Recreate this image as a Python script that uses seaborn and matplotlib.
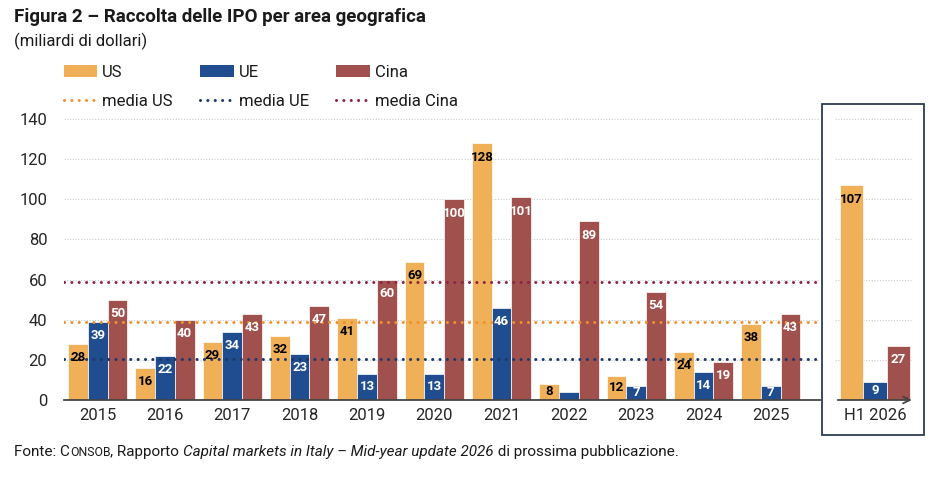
import numpy as np
import pandas as pd
import matplotlib
matplotlib.use('Agg')
import matplotlib.pyplot as plt
from matplotlib.patches import Patch, Rectangle
from matplotlib.lines import Line2D
from matplotlib import font_manager
import seaborn as sns

# data (miliardi di dollari)
anni = ['2015', '2016', '2017', '2018', '2019', '2020', '2021', '2022', '2023', '2024', '2025']
us = [28, 16, 29, 32, 41, 69, 128, 8, 12, 24, 38]
ue = [39, 22, 34, 23, 13, 13, 46, 4, 7, 14, 7]
cina = [50, 40, 43, 47, 60, 100, 101, 89, 54, 19, 43]

h1_label = 'H1 2026'
h1_us = [107]
h1_ue = [9]
h1_cina = [27]

aree = ['US', 'UE', 'Cina']
bar_colors = {'US': '#F0B057', 'UE': '#1F4D90', 'Cina': '#A0514E'}
mean_colors = {'US': '#F0922A', 'UE': '#1D3868', 'Cina': '#8E2445'}
label_colors = {'US': 'black', 'UE': 'white', 'Cina': 'white'}

sns.set_theme(style='white')
avail = {f.name for f in font_manager.fontManager.ttflist}
fam = [f for f in ['Liberation Sans Narrow', 'Roboto', 'DejaVu Sans'] if f in avail]
plt.rcParams['font.family'] = fam
plt.rcParams['text.color'] = '#1a1a1a'


def long_df(labels, a, b, c):
    rows = []
    for area, vals in zip(aree, [a, b, c]):
        for lab, v in zip(labels, vals):
            rows.append({'anno': lab, 'area': area, 'valore': v})
    return pd.DataFrame(rows)


def draw_bars(ax, df, width):
    sns.barplot(data=df, x='anno', y='valore', hue='area', hue_order=aree,
                palette=bar_colors, width=width, saturation=1, legend=False,
                edgecolor='white', linewidth=0.5, ax=ax, zorder=2)
    # value labels inside the top of each bar
    for area, cont in zip(aree, ax.containers):
        for p in cont:
            h = p.get_height()
            if h < 5:
                continue
            ax.text(p.get_x() + p.get_width() / 2, h - min(7, h / 2), f'{h:.0f}',
                    ha='center', va='center', fontsize=9.5, fontweight='bold',
                    color=label_colors[area], zorder=5)


def style_axis(ax):
    ax.set_ylim(0, 141)
    ax.set_yticks(np.arange(0, 141, 20))
    ax.yaxis.grid(True, color='#C9C9C9', linestyle=(0, (1, 1.5)), linewidth=0.8)
    ax.set_axisbelow(True)
    for s in ['top', 'right', 'left']:
        ax.spines[s].set_visible(False)
    ax.spines['bottom'].set_color('#444444')
    ax.spines['bottom'].set_linewidth(1.3)
    ax.set_xlabel('')
    ax.set_ylabel('')
    ax.tick_params(axis='x', length=0, labelsize=12, pad=6)
    ax.tick_params(axis='y', length=0, labelsize=12, pad=12)


fig = plt.figure(figsize=(9.5, 4.84), dpi=100)
W, H = 950, 484
ax = fig.add_axes([64 / W, 1 - 400 / H, (820 - 64) / W, 283 / H])
ax2 = fig.add_axes([835 / W, 1 - 400 / H, (913 - 835) / W, 283 / H])

draw_bars(ax, long_df(anni, us, ue, cina), 0.88)
style_axis(ax)
ax.set_xlim(-0.5, len(anni) - 0.27)

# averages over 2015-2025
for area, vals in zip(aree, [us, ue, cina]):
    ax.axhline(np.mean(vals), color=mean_colors[area], linestyle=(0, (0.01, 2.4)),
               linewidth=2.2, dash_capstyle='round', zorder=4)

draw_bars(ax2, long_df([h1_label], h1_us, h1_ue, h1_cina), 1.0)
style_axis(ax2)
ax2.set_xlim(-0.571, 0.543)
ax2.set_yticklabels([])
ax2.spines['bottom'].set_visible(False)
ax2.annotate('', xy=(1.02, 0), xytext=(0, 0), xycoords='axes fraction',
             arrowprops=dict(arrowstyle='->', color='#444444', lw=1.3))

# box around the half-year panel
fig.add_artist(Rectangle((822 / W, 1 - 435 / H), (924 - 822) / W, (435 - 104) / H,
                         transform=fig.transFigure, fill=False,
                         edgecolor='#2E3B56', linewidth=1.3))

# legend: bars on first row, averages on second
handles, labels = [], []
for area in aree:
    handles.append(Patch(facecolor=bar_colors[area], edgecolor='none'))
    labels.append(area)
    handles.append(Line2D([], [], color=mean_colors[area], linestyle=(0, (0.01, 2.4)),
                          linewidth=2.2, dash_capstyle='round'))
    labels.append('media ' + area)
fig.legend(handles, labels, ncol=3, loc='upper left',
           bbox_to_anchor=(64 / W, 1 - 65 / H), frameon=False, fontsize=12,
           handlelength=2.0, handletextpad=0.3, columnspacing=1.65,
           labelspacing=0.85, borderpad=0, borderaxespad=0)

fig.text(14 / W, 1 - 17 / H, 'Figura 2 \u2013 Raccolta delle IPO per area geografica',
         fontsize=13.5, fontweight='bold', va='center', ha='left')
fig.text(14 / W, 1 - 41 / H, '(miliardi di dollari)', fontsize=12, va='center', ha='left')

# source note with small caps for CONSOB
renderer = fig.canvas.get_renderer()
segments = [('Fonte: C', {}), ('ONSOB', {'fontsize': 8.8}), (', Rapporto ', {}),
            ('Capital markets in Italy \u2013 Mid-year update 2026', {'style': 'italic'}),
            (' di prossima pubblicazione.', {})]
x = 14 / W
for txt, kw in segments:
    opts = {'fontsize': 11, 'va': 'baseline', 'ha': 'left'}
    opts.update(kw)
    t = fig.text(x, 1 - 456 / H, txt, **opts)
    bb = t.get_window_extent(renderer)
    x = bb.x1 / fig.bbox.width

fig.savefig('out.png', dpi=100)
